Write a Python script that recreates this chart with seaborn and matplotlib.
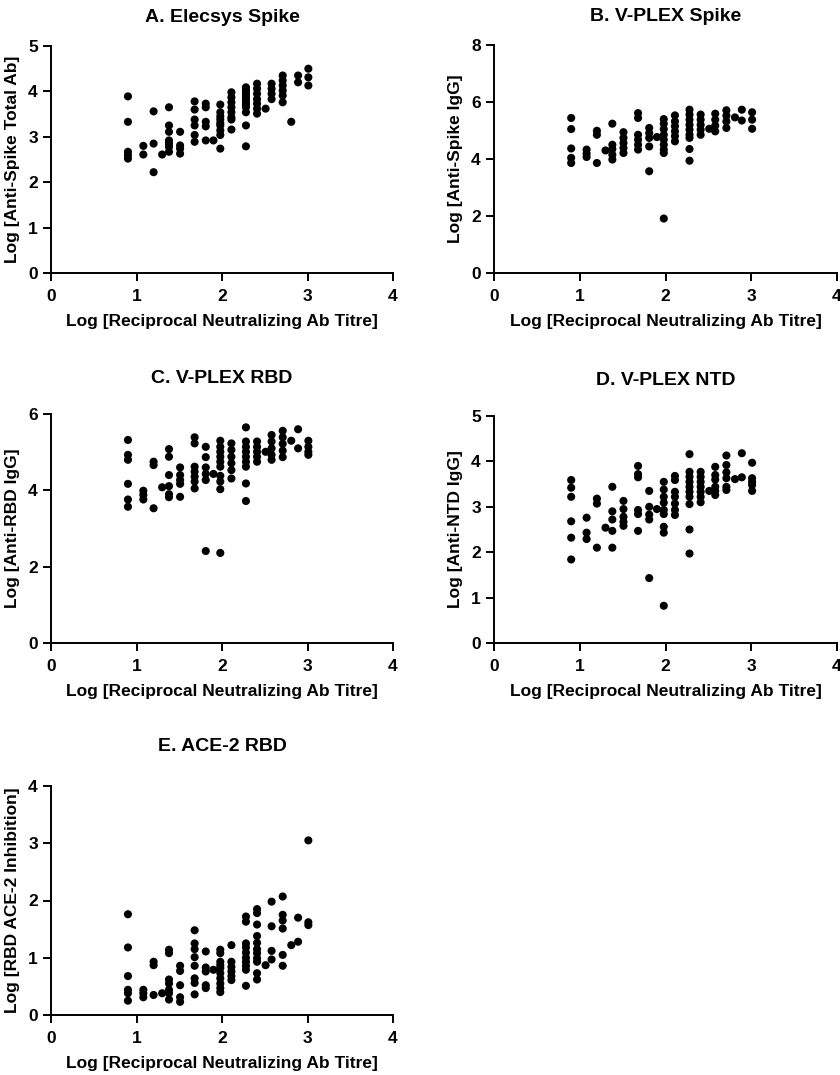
import pandas as pd
import matplotlib
matplotlib.use('Agg')
import matplotlib.pyplot as plt
import seaborn as sns

# log10 reciprocal neutralizing titre levels (8 ... 1024)
titre_levels = [0.90, 1.08, 1.20, 1.30, 1.38, 1.51, 1.68, 1.81, 1.90, 1.98,
                2.11, 2.28, 2.41, 2.51, 2.58, 2.71, 2.81, 2.89, 3.01]

# y values per titre level
elecsys_spike = [
    [3.89, 3.33, 2.67, 2.59, 2.52],
    [2.80, 2.61],
    [3.56, 2.85, 2.22],
    [2.61],
    [3.65, 3.25, 3.11, 2.92, 2.85, 2.78, 2.67],
    [3.11, 2.81, 2.74, 2.63],
    [3.78, 3.60, 3.38, 3.25, 3.04, 2.89],
    [3.73, 3.65, 3.33, 3.23, 2.92],
    [2.92],
    [3.71, 3.54, 3.45, 3.38, 3.30, 3.25, 3.14, 3.04, 2.74],
    [3.98, 3.87, 3.76, 3.65, 3.54, 3.43, 3.38, 3.16],
    [4.09, 4.03, 3.98, 3.93, 3.87, 3.82, 3.76, 3.70, 3.65, 3.54, 3.25, 2.79],
    [4.17, 4.06, 3.95, 3.83, 3.73, 3.62, 3.51],
    [3.62],
    [4.17, 4.06, 3.95, 3.83],
    [4.35, 4.24, 4.13, 4.02, 3.91, 3.76],
    [3.33],
    [4.35, 4.20],
    [4.50, 4.31, 4.13],
]

vplex_spike = [
    [5.44, 5.05, 4.37, 4.04, 3.86],
    [4.33, 4.19, 4.07],
    [4.99, 4.85, 3.86],
    [4.30],
    [5.24, 4.50, 4.35, 4.15, 3.98],
    [4.94, 4.74, 4.56, 4.39, 4.21],
    [5.61, 5.44, 4.85, 4.68, 4.50, 4.33],
    [5.09, 4.91, 4.74, 4.44, 3.57],
    [4.77],
    [5.40, 5.24, 5.05, 4.85, 4.68, 4.50, 4.33, 4.21, 1.91],
    [5.53, 5.32, 5.15, 4.97, 4.80, 4.62],
    [5.73, 5.56, 5.38, 5.20, 5.03, 4.85, 4.74, 4.35, 3.94],
    [5.56, 5.38, 5.20, 5.03, 4.85],
    [5.06],
    [5.59, 5.38, 5.17, 4.97],
    [5.71, 5.52, 5.32, 5.09],
    [5.46],
    [5.73, 5.35],
    [5.64, 5.38, 5.06],
]

vplex_rbd = [
    [5.32, 4.93, 4.80, 4.17, 3.76, 3.57],
    [3.99, 3.88, 3.76],
    [4.75, 4.66, 3.53],
    [4.08],
    [5.08, 4.88, 4.40, 4.11, 3.90, 3.82],
    [4.60, 4.40, 4.27, 4.17, 3.83],
    [5.39, 5.23, 4.62, 4.49, 4.36, 4.23, 4.05],
    [5.14, 4.87, 4.60, 4.43, 4.27, 2.41],
    [4.43],
    [5.30, 5.14, 5.01, 4.88, 4.75, 4.62, 4.38, 4.23, 4.03, 2.36],
    [5.23, 5.06, 4.88, 4.71, 4.53, 4.31],
    [5.65, 5.28, 5.14, 5.01, 4.88, 4.75, 4.62, 4.18, 3.72],
    [5.28, 5.14, 5.01, 4.88, 4.75],
    [5.01],
    [5.45, 5.28, 5.10, 4.93, 4.80],
    [5.56, 5.39, 5.22, 5.04, 4.87],
    [5.30],
    [5.60, 5.10],
    [5.30, 5.14, 5.01, 4.93],
]

vplex_ntd = [
    [3.59, 3.42, 3.22, 2.68, 2.32, 1.84],
    [2.76, 2.43, 2.29],
    [3.18, 3.07, 2.10],
    [2.54],
    [3.44, 2.90, 2.72, 2.47, 2.10],
    [3.13, 2.95, 2.78, 2.67, 2.58],
    [3.90, 3.72, 3.65, 2.93, 2.84, 2.47],
    [3.35, 3.00, 2.83, 2.72, 1.43],
    [2.95],
    [3.55, 3.38, 3.22, 3.09, 2.93, 2.84, 2.56, 2.43, 0.82],
    [3.68, 3.59, 3.33, 3.22, 3.07, 2.93, 2.82],
    [4.16, 3.77, 3.66, 3.55, 3.44, 3.33, 3.22, 3.06, 2.50, 1.97],
    [3.77, 3.66, 3.55, 3.44, 3.33, 3.22, 3.10],
    [3.35],
    [3.88, 3.70, 3.60, 3.44, 3.35, 3.26],
    [4.13, 3.92, 3.76, 3.63, 3.44, 3.37],
    [3.61],
    [4.18, 3.65],
    [3.97, 3.63, 3.55, 3.48, 3.35],
]

ace2_rbd = [
    [1.76, 1.18, 0.68, 0.44, 0.38, 0.25],
    [0.44, 0.38, 0.31],
    [0.93, 0.87, 0.35],
    [0.38],
    [1.14, 1.08, 0.62, 0.55, 0.44, 0.38, 0.27],
    [0.86, 0.77, 0.52, 0.31, 0.23],
    [1.48, 1.25, 1.15, 1.01, 0.86, 0.64, 0.56, 0.36],
    [1.11, 0.83, 0.76, 0.52, 0.47],
    [0.79],
    [1.14, 1.08, 0.93, 0.87, 0.82, 0.73, 0.64, 0.55, 0.47, 0.40],
    [1.22, 0.93, 0.84, 0.76, 0.68, 0.61],
    [1.72, 1.63, 1.25, 1.18, 1.09, 1.00, 0.93, 0.86, 0.79, 0.51],
    [1.85, 1.78, 1.58, 1.38, 1.26, 1.15, 1.08, 0.99, 0.93, 0.73, 0.62],
    [0.87],
    [1.98, 1.55, 1.12, 0.97],
    [2.07, 1.75, 1.65, 1.51, 1.05, 0.86],
    [1.22],
    [1.70, 1.28],
    [3.05, 1.62, 1.57],
]

titles = ['A. Elecsys Spike', 'B. V-PLEX Spike', 'C. V-PLEX RBD',
          'D. V-PLEX NTD', 'E. ACE-2 RBD']
ylabels = ['Log [Anti-Spike Total Ab]', 'Log [Anti-Spike IgG]',
           'Log [Anti-RBD IgG]', 'Log [Anti-NTD IgG]',
           'Log [RBD ACE-2 Inhibition]']
xlabel = 'Log [Reciprocal Neutralizing Ab Titre]'
panel_data = [elecsys_spike, vplex_spike, vplex_rbd, vplex_ntd, ace2_rbd]
ymax = [5, 8, 6, 5, 4]
ystep = [1, 2, 2, 1, 1]
title_pad = [17, 17, 22, 22, 25]


def to_frame(groups):
    rows = []
    for x, ys in zip(titre_levels, groups):
        for y in ys:
            rows.append({'x': x, 'y': y})
    return pd.DataFrame(rows)


sns.set_theme(style='ticks')
plt.rcParams['font.family'] = ['Liberation Sans', 'DejaVu Sans']
plt.rcParams['font.weight'] = 'bold'
plt.rcParams['text.color'] = 'black'
plt.rcParams['axes.labelcolor'] = 'black'
plt.rcParams['xtick.color'] = 'black'
plt.rcParams['ytick.color'] = 'black'
plt.rcParams['axes.edgecolor'] = 'black'

W, H = 840, 1075
fig = plt.figure(figsize=(W / 100, H / 100), dpi=100)

# axes boxes in pixels: left, top, right, bottom
boxes = [(51, 46, 393, 273), (494, 45, 837, 273),
         (51, 414, 393, 643), (494, 416, 837, 643),
         (51, 786, 393, 1015)]

for i, (l, t, r, b) in enumerate(boxes):
    ax = fig.add_axes([l / W, 1 - b / H, (r - l) / W, (b - t) / H])
    df = to_frame(panel_data[i])
    sns.scatterplot(data=df, x='x', y='y', ax=ax, color='black', s=34,
                    edgecolor='none', clip_on=False)
    ax.set_xlim(0, 4)
    ax.set_ylim(0, ymax[i])
    ax.set_xticks(range(0, 5))
    ax.set_yticks(range(0, ymax[i] + 1, ystep[i]))
    ax.tick_params(labelsize=12.5, width=1.4, length=5.5, colors='black')
    ax.tick_params(axis='x', pad=6)
    ax.tick_params(axis='y', pad=4)
    for lab in ax.get_xticklabels() + ax.get_yticklabels():
        lab.set_fontweight('bold')
    ax.set_xlabel(xlabel, fontsize=12.5, fontweight='bold', labelpad=7)
    ax.set_ylabel(ylabels[i], fontsize=12.5, fontweight='bold', labelpad=6)
    ax.set_title(titles[i], fontsize=14, fontweight='bold', pad=title_pad[i])
    sns.despine(ax=ax)
    for sp in ('left', 'bottom'):
        ax.spines[sp].set_linewidth(1.4)
        ax.spines[sp].set_color('black')

fig.savefig('out.png', dpi=100, facecolor='white')
